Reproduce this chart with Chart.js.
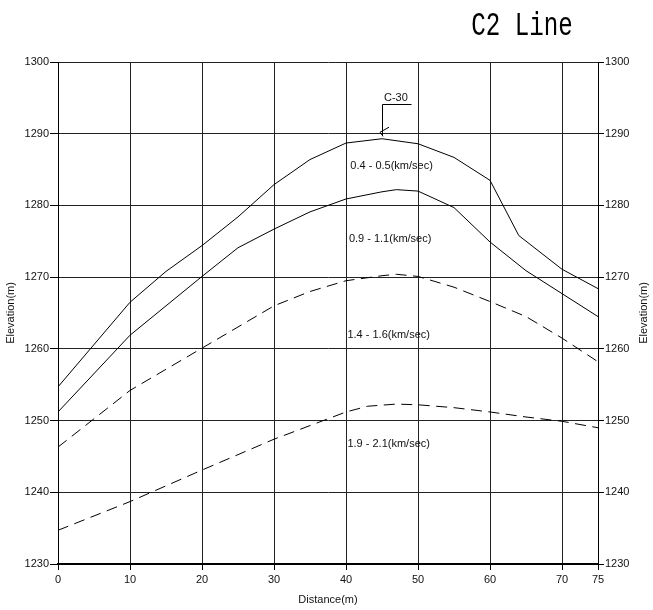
<!DOCTYPE html>
<html>
<head>
<meta charset="utf-8">
<title>C2 Line</title>
<script src="https://cdn.jsdelivr.net/npm/chart.js@4.4.1/dist/chart.umd.min.js"></script>
<style>
  html, body { margin: 0; padding: 0; background: #fff; }
  #wrap { width: 653px; height: 610px; }
</style>
</head>
<body>
<div id="wrap"><canvas id="chart" width="653" height="610"></canvas></div>
<script>
// Velocity layer boundaries along the C2 line (distance in m, elevation in m)
const distTop  = [0, 10, 15, 20, 25, 30, 35, 40, 45, 50, 55, 60, 64, 70, 75];
const elevTop  = [1254.7, 1266.5, 1270.8, 1274.4, 1278.4, 1282.9, 1286.4, 1288.7, 1289.3, 1288.6, 1286.7, 1283.5, 1275.8, 1271.1, 1268.4];

const distMid  = [0, 10, 15, 20, 25, 30, 35, 40, 45, 47, 50, 55, 60, 65, 70, 75];
const elevMid  = [1251.2, 1261.9, 1266.0, 1270.1, 1274.1, 1276.7, 1279.1, 1280.9, 1281.9, 1282.2, 1282.0, 1279.7, 1274.9, 1270.9, 1267.7, 1264.5];

const distLow  = [0, 10, 20, 30, 35, 40, 45, 47, 50, 55, 60, 65, 70, 75];
const elevLow  = [1246.3, 1254.2, 1260.1, 1266.0, 1268.0, 1269.5, 1270.2, 1270.4, 1270.1, 1268.6, 1266.6, 1264.5, 1261.5, 1258.2];

const distDeep = [0, 10, 20, 30, 40, 43, 47, 50, 55, 60, 65, 70, 75];
const elevDeep = [1234.7, 1238.7, 1243.1, 1247.4, 1251.2, 1252.0, 1252.3, 1252.2, 1251.8, 1251.2, 1250.5, 1249.9, 1249.0];

// Axis ticks
const distTicks = [0, 10, 20, 30, 40, 50, 60, 70, 75];
const elevTicks = [1230, 1240, 1250, 1260, 1270, 1280, 1290, 1300];

// Layer names
const layerNames = ['0.4 - 0.5(km/sec)', '0.9 - 1.1(km/sec)', '1.4 - 1.6(km/sec)', '1.9 - 2.1(km/sec)'];

// Where each layer name sits (distance, elevation at text middle)
const layerNameAnchors = [[40.6, 1285.5], [40.4, 1275.3], [40.2, 1261.9], [40.2, 1246.8]];

// Borehole on the section
const boreholeName = 'C-30';
const boreholeDist = 45;
const boreholeFlagTop = 1294.1;
const boreholeFlagEnd = 49.1;

const FONT = '"Liberation Sans", Arial, Helvetica, sans-serif';
const INK = '#111';

function pts(xs, ys) { return xs.map((x, i) => ({ x: x, y: ys[i] })); }

const lineStyle = (dash) => ({
  borderColor: '#000',
  borderWidth: 1,
  borderDash: dash,
  pointRadius: 0,
  pointHoverRadius: 0,
  tension: 0,
  fill: false
});

const sectionDecor = {
  id: 'sectionDecor',
  afterDatasetsDraw(chart) {
    const ctx = chart.ctx;
    const xs = chart.scales.x, ys = chart.scales.y;
    const area = chart.chartArea;

    // layer names
    ctx.save();
    ctx.fillStyle = INK;
    ctx.font = '11px ' + FONT;
    ctx.textAlign = 'left';
    ctx.textBaseline = 'middle';
    layerNames.forEach((t, i) => {
      const a = layerNameAnchors[i];
      ctx.fillText(t, xs.getPixelForValue(a[0]), ys.getPixelForValue(a[1]));
    });

    // borehole flag
    const bx = Math.round(xs.getPixelForValue(boreholeDist)) + 0.5;
    const by = ys.getPixelForValue(elevTop[distTop.indexOf(boreholeDist)]) - 2.5;
    const fy = Math.round(ys.getPixelForValue(boreholeFlagTop)) + 0.5;
    const fx = xs.getPixelForValue(boreholeFlagEnd);
    ctx.strokeStyle = '#000';
    ctx.lineWidth = 1;
    ctx.beginPath();
    ctx.moveTo(fx, fy);
    ctx.lineTo(bx, fy);
    ctx.lineTo(bx, by);
    ctx.stroke();
    ctx.beginPath();
    ctx.moveTo(bx + 6.5, by - 9);
    ctx.lineTo(bx - 2.5, by - 4);
    ctx.lineTo(bx + 0.5, by);
    ctx.stroke();
    ctx.textBaseline = 'alphabetic';
    ctx.fillText(boreholeName, bx + 1.5, fy - 4);

    // right-hand axis title, reading upward like the left one
    ctx.save();
    ctx.translate(644, (area.top + area.bottom) / 2);
    ctx.rotate(-Math.PI / 2);
    ctx.textAlign = 'center';
    ctx.textBaseline = 'middle';
    ctx.fillText('Elevation(m)', 0, 0);
    ctx.restore();

    // chart heading
    ctx.translate(522, 35);
    ctx.scale(0.78, 1.05);
    ctx.font = '31px "Liberation Mono", "Courier New", monospace';
    ctx.textAlign = 'center';
    ctx.fillStyle = '#000';
    ctx.fillText('C2 Line', 0, 0);
    ctx.restore();
  }
};

const tickFont = { family: FONT, size: 11 };
const plainNumber = (v) => String(v);

new Chart(document.getElementById('chart'), {
  type: 'line',
  data: {
    datasets: [
      Object.assign({ label: layerNames[0], data: pts(distTop, elevTop) }, lineStyle([])),
      Object.assign({ label: layerNames[1], data: pts(distMid, elevMid) }, lineStyle([])),
      Object.assign({ label: layerNames[2], data: pts(distLow, elevLow) }, lineStyle([11, 6.5])),
      Object.assign({ label: layerNames[3], data: pts(distDeep, elevDeep) }, lineStyle([11, 6.5]))
    ]
  },
  options: {
    responsive: false,
    animation: false,
    devicePixelRatio: 1,
    layout: { padding: { top: 62, left: 0, right: 0, bottom: 0 } },
    plugins: {
      legend: { display: false },
      tooltip: { enabled: false },
      title: { display: false }
    },
    scales: {
      x: {
        type: 'linear',
        min: 0,
        max: 75,
        afterBuildTicks: (s) => { s.ticks = distTicks.map(v => ({ value: v })); },
        afterFit: (s) => { s.height = 46; },
        ticks: { autoSkip: false, maxRotation: 0, padding: 3, font: tickFont, color: INK, callback: plainNumber },
        grid: { color: '#222', lineWidth: 1, tickLength: 6, tickColor: '#000' },
        border: { color: '#000', width: 2 },
        title: { display: true, text: 'Distance(m)', font: tickFont, color: INK, padding: { top: 2, bottom: 3 } }
      },
      y: {
        position: 'left',
        min: 1230,
        max: 1300,
        afterBuildTicks: (s) => { s.ticks = elevTicks.map(v => ({ value: v })); },
        afterFit: (s) => { s.width = 58; },
        ticks: { padding: 1, font: tickFont, color: INK, callback: plainNumber },
        grid: { color: '#222', lineWidth: 1, tickLength: 8, tickColor: '#000' },
        border: { color: '#000', width: 1 },
        title: { display: true, text: 'Elevation(m)', font: tickFont, color: INK, padding: { top: 4, bottom: 0 } }
      },
      y2: {
        position: 'right',
        min: 1230,
        max: 1300,
        afterBuildTicks: (s) => { s.ticks = elevTicks.map(v => ({ value: v })); },
        afterFit: (s) => { s.width = 55; },
        ticks: { padding: 1, font: tickFont, color: INK, callback: plainNumber },
        grid: { drawOnChartArea: false, tickLength: 6, tickColor: '#000', color: '#000' },
        border: { color: '#000', width: 1 },
        title: { display: false }
      }
    }
  },
  plugins: [sectionDecor]
});
</script>
</body>
</html>
